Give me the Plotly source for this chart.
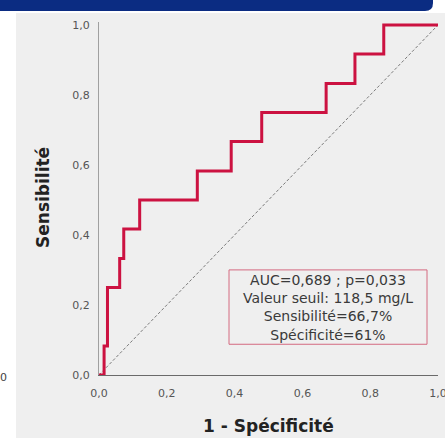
import plotly.graph_objects as go

# ---- data ----
fpr = [0.0, 0.015, 0.015, 0.025, 0.025, 0.061, 0.061, 0.073, 0.073, 0.12, 0.12,
       0.29, 0.29, 0.39, 0.39, 0.48, 0.48, 0.67, 0.67, 0.755, 0.755, 0.84, 0.84, 1.0]
tpr = [0.0, 0.0, 0.083, 0.083, 0.25, 0.25, 0.333, 0.333, 0.417, 0.417, 0.5,
       0.5, 0.583, 0.583, 0.667, 0.667, 0.75, 0.75, 0.833, 0.833, 0.917, 0.917, 1.0, 1.0]
ref_line = [0.0, 1.0]
tick_vals = [0.0, 0.2, 0.4, 0.6, 0.8, 1.0]
tick_text = ["0,0", "0,2", "0,4", "0,6", "0,8", "1,0"]
box_lines = ["AUC=0,689 ; p=0,033", "Valeur seuil: 118,5 mg/L",
             "Sensibilité=66,7%", "Spécificité=61%"]

W, H = 445, 438
L, R, T, B = 99, 7, 22, 63
PW, PH = W - L - R, H - T - B


def px(x):
    return (x - L) / PW


def py(y):
    return (H - B - y) / PH


FONT = "DejaVu Sans"
GREY = "#efefef"

fig = go.Figure()
fig.add_trace(go.Scatter(x=ref_line, y=ref_line, mode="lines",
                         line=dict(color="#7a7a7a", width=1, dash="3px,2px"),
                         hoverinfo="skip", showlegend=False))
fig.add_trace(go.Scatter(x=fpr, y=tpr, mode="lines",
                         line=dict(color="#cc1241", width=3),
                         showlegend=False))

shapes = [
    # grey panel
    dict(type="rect", xref="paper", yref="paper", x0=px(16), x1=px(W + 5),
         y0=py(H + 5), y1=py(13), fillcolor=GREY, line=dict(width=0), layer="below"),
    # navy banner with rounded bottom-right corner
    dict(type="path", xref="paper", yref="paper",
         path=(f"M {px(-5)},{py(-5)} L {px(433)},{py(-5)} L {px(433)},{py(3)} "
               f"Q {px(433)},{py(11)} {px(425)},{py(11)} L {px(-5)},{py(11)} Z"),
         fillcolor="#0b2c82", line=dict(width=0), layer="below"),
    # annotation box
    dict(type="rect", xref="x", yref="y", x0=px(229), x1=px(427),
         y0=py(344), y1=py(269), line=dict(color="#d46a80", width=1),
         fillcolor=GREY, layer="above"),
]

annotations = [
    dict(text="<br>".join(box_lines), xref="paper", yref="paper",
         x=px(328), y=py(307), showarrow=False, align="center",
         xanchor="center", yanchor="middle",
         font=dict(family=FONT, size=14, color="#3a3a3a")),
    # axis titles
    dict(text="<b>1 - Spécificité</b>", xref="paper", yref="paper",
         x=px(268), y=py(426), showarrow=False,
         xanchor="center", yanchor="middle",
         font=dict(family=FONT, size=17, color="#222222")),
    dict(text="<b>Sensibilité</b>", xref="paper", yref="paper",
         x=px(43), y=py(198), showarrow=False, textangle=-90,
         xanchor="center", yanchor="middle",
         font=dict(family=FONT, size=17, color="#222222")),
    # stray label from neighbouring panel
    dict(text="0", xref="paper", yref="paper",
         x=px(3), y=py(377), showarrow=False,
         xanchor="center", yanchor="middle",
         font=dict(family=FONT, size=11, color="#444444")),
]

fig.update_layout(
    width=W, height=H,
    margin=dict(l=L, r=R, t=T, b=B, autoexpand=False),
    paper_bgcolor="#ffffff", plot_bgcolor=GREY,
    shapes=shapes, annotations=annotations,
    xaxis=dict(range=[0, 1.0], tickvals=tick_vals, ticktext=tick_text,
               showgrid=False, zeroline=False, showline=True,
               linecolor="#6a6a6a", linewidth=1, ticks="",
               ticklabelstandoff=8, ticklabeloverflow="allow",
               tickfont=dict(family=FONT, size=11, color="#555555")),
    yaxis=dict(range=[0, PH / 350], tickvals=tick_vals, ticktext=tick_text,
               showgrid=False, zeroline=False, showline=True,
               linecolor="#a0a0a0", linewidth=1, ticks="",
               ticklabelstandoff=6, ticklabeloverflow="allow",
               tickfont=dict(family=FONT, size=11, color="#555555")),
)

fig.write_html("out.html", config={"displayModeBar": False},
               post_script="document.body.style.margin='0';"
                           "document.body.style.overflow='hidden';")
